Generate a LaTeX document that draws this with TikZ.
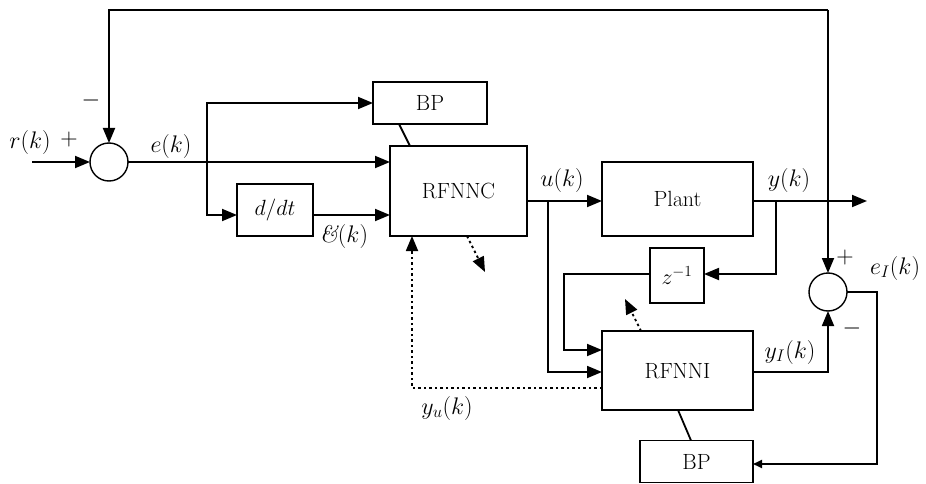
\documentclass[tikz,border=0pt]{standalone}
\usepackage{fix-cm}
\usetikzlibrary{arrows.meta,calc}
\begin{document}
\begin{tikzpicture}[x=1pt,y=-1pt,
  ln/.style={line width=1.8pt},
  arr/.style={-{Triangle[length=15pt,width=12pt]}},
  arrs/.style={-{Triangle[length=9pt,width=8pt]}},
  dotl/.style={dash pattern=on 2.5pt off 3pt},
  blk/.style={draw,line width=1.8pt,inner sep=0pt,outer sep=0pt,font=\fontencoding{OT1}\fontfamily{cmr}\fontsize{22}{26}\selectfont},
  sumc/.style={draw,circle,line width=1.4pt,minimum size=38pt,inner sep=0pt,outer sep=0pt},
  lbl/.style={font=\fontencoding{OT1}\fontfamily{cmr}\fontsize{24}{28}\selectfont,inner sep=0pt}
]
\useasboundingbox (0,0) rectangle (926,484);
% blocks
\node[sumc] (sj1) at (109,162) {};
\node[sumc] (sj2) at (828,292) {};
\node[blk,minimum width=114pt,minimum height=42pt] (bp1) at (430,103) {BP};
\node[blk,minimum width=137pt,minimum height=90pt] (rfnnc) at (458.5,191) {RFNNC};
\node[blk,minimum width=76pt,minimum height=52pt] (ddt) at (275,210) {$d/dt$};
\node[blk,minimum width=151pt,minimum height=74pt] (plant) at (677.5,199) {Plant};
\node[blk,minimum width=54pt,minimum height=55pt] (zinv) at (677,275.5) {$z^{-1}$};
\node[blk,minimum width=151pt,minimum height=79pt] (rfnni) at (677.5,370.5) {RFNNI};
\node[blk,minimum width=113pt,minimum height=42pt] (bp2) at (696.5,461.5) {BP};
% helper coordinates
\coordinate (hA) at (0,215);
\coordinate (hE) at (0,162);
\coordinate (hU) at (0,201);
\coordinate (hZ) at (0,274);
\coordinate (hR1) at (0,350);
\coordinate (hR2) at (0,372);
\coordinate (hD) at (0,388);
\coordinate (hB) at (0,464);
\coordinate (rin) at (32,162);
\coordinate (tr) at (828,10);
\coordinate (b1) at (207,162);
\coordinate (b2) at (548,201);
\coordinate (b3) at (776,201);
\coordinate (yout) at (867,201);
\coordinate (c4) at (564,274);
\coordinate (c5) at (877,292);
\coordinate (c6) at (412,388);
% connectors
\draw[ln,arr] (rin) -- (sj1.west);
\draw[ln,arr] (tr) -| (sj1.north);
\draw[ln,arr] (tr) -- (sj2.north);
\draw[ln,arr] (sj1.east) -- (rfnnc.west |- hE);
\draw[ln,arr] (b1) |- (bp1.west);
\draw[ln,arr] (b1) |- (ddt.west |- hA);
\draw[ln,arr] (ddt.east |- hA) -- (rfnnc.west |- hA);
\draw[ln] ($(bp1.south west)+(26,0)$) -- ($(rfnnc.north west)+(20,0)$);
\draw[ln,dotl,arr] ($(rfnnc.south west)+(77,0)$) -- ++(18,36);
\draw[ln,arr] (rfnnc.east |- hU) -- (plant.west |- hU);
\draw[ln,arr] (b2) |- (rfnni.west |- hR2);
\draw[ln,arr] (plant.east |- hU) -- (yout);
\draw[ln,arr] (b3) |- (zinv.east |- hZ);
\draw[ln,arr] (zinv.west |- hZ) -- (c4) |- (rfnni.west |- hR1);
\draw[ln,dotl,arr] ($(rfnni.north west)+(39,0)$) -- ++(-16,-32);
\draw[ln,arr] (rfnni.east |- hR2) -| (sj2.south);
\draw[ln,arrs] (sj2.east) -- (c5) |- (bp2.east |- hB);
\draw[ln] ($(rfnni.south west)+(76,0)$) -- ($(bp2.north west)+(51,0)$);
\draw[ln,dotl,arr] (rfnni.west |- hD) -- (c6) -- (c6 |- rfnnc.south);
% labels
\node[lbl] (lr) at (30,143) {$r(k)$};
\node[lbl] (lp1) at (69,140) {$+$};
\node[lbl] (lm1) at (91,101) {$-$};
\node[lbl] (le) at (171,147) {$e(k)$};
\node[lbl] (led) at (344,236) {\fontfamily{cmr}\itshape\&$(k)$};
\node[lbl] (lu) at (562,181) {$u(k)$};
\node[lbl] (ly) at (789,181) {$y(k)$};
\node[lbl] (lp2) at (845,257) {$+$};
\node[lbl] (leI) at (895,268) {$e_I(k)$};
\node[lbl] (lm2) at (852,328) {$-$};
\node[lbl] (lyI) at (790,352) {$y_I(k)$};
\node[lbl] (lyu) at (447,408) {$y_u(k)$};
\end{tikzpicture}
\end{document}
